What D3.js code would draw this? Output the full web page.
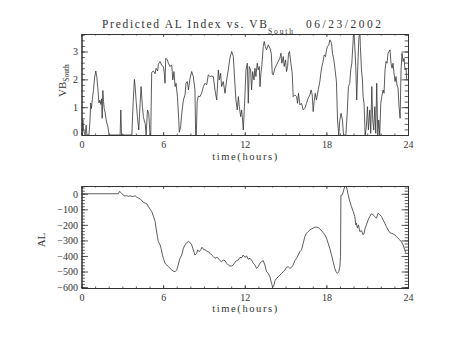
<!DOCTYPE html>
<html><head><meta charset="utf-8">
<script src="https://cdn.jsdelivr.net/npm/d3@7"></script>
<style>html,body{margin:0;padding:0;background:#fff;}svg{display:block;}</style>
</head><body>
<svg id="chart" width="453" height="340"></svg>
<script>
// ---- data ----
const vbHours = [0.00,0.05,0.10,0.15,0.22,0.27,0.34,0.40,0.55,0.62,0.68,0.73,0.80,0.88,0.96,1.05,1.12,1.20,1.28,1.35,1.42,1.48,1.52,1.57,1.62,1.67,1.74,1.81,1.88,1.94,2.03,2.84,2.89,2.94,3.70,3.80,3.89,3.95,4.01,4.11,4.21,4.31,4.38,4.48,4.55,4.62,4.68,4.75,4.85,4.94,5.04,5.09,5.16,5.29,5.41,5.48,5.60,5.65,5.78,5.90,6.02,6.09,6.14,6.19,6.31,6.39,6.51,6.63,6.71,6.80,6.88,6.95,7.05,7.15,7.19,7.29,7.37,7.49,7.61,7.68,7.78,7.86,7.98,8.10,8.22,8.34,8.39,8.44,8.50,8.59,8.71,8.83,8.96,9.08,9.20,9.32,9.45,9.57,9.69,9.81,9.94,10.06,10.13,10.23,10.30,10.42,10.55,10.67,10.79,10.91,11.04,11.16,11.26,11.35,11.45,11.53,11.60,11.70,11.77,11.84,11.89,11.99,12.09,12.19,12.26,12.33,12.43,12.50,12.58,12.68,12.75,12.82,12.92,12.99,13.07,13.12,13.19,13.26,13.36,13.43,13.51,13.60,13.73,13.85,13.95,14.02,14.09,14.22,14.34,14.46,14.58,14.66,14.73,14.83,14.90,15.00,15.07,15.15,15.22,15.29,15.39,15.49,15.56,15.68,15.81,15.88,15.95,16.05,16.17,16.30,16.42,16.54,16.66,16.79,16.88,16.96,17.03,17.10,17.18,17.27,17.40,17.52,17.59,17.67,17.76,17.84,17.94,18.01,18.08,18.18,18.25,18.38,18.45,18.55,18.64,18.74,18.82,18.91,18.99,19.08,19.18,19.26,19.43,19.53,19.62,19.72,19.79,19.87,19.97,20.01,20.09,20.16,20.23,20.31,20.38,20.46,20.50,20.58,20.65,20.70,20.77,20.85,20.94,21.02,21.09,21.19,21.26,21.34,21.41,21.48,21.56,21.63,21.70,21.78,21.85,21.92,22.00,22.07,22.17,22.24,22.31,22.39,22.46,22.53,22.61,22.68,22.75,22.83,22.90,22.97,23.05,23.12,23.19,23.27,23.34,23.42,23.49,23.56,23.64,23.71,23.78,23.86,23.90];
const vbSouth = [0.00,0.10,0.55,0.20,0.05,0.00,0.35,0.00,0.00,0.50,1.15,0.95,1.30,1.60,2.05,2.30,2.10,1.70,1.15,1.25,1.10,1.30,0.60,1.60,1.20,0.95,0.80,0.55,0.40,0.30,0.00,0.00,0.90,0.00,0.00,1.20,2.00,1.70,1.26,0.66,0.18,1.14,1.74,1.00,0.66,0.50,0.42,0.00,0.90,0.78,0.00,0.00,2.25,2.30,2.20,2.40,2.30,2.55,2.64,2.50,2.46,2.20,1.86,2.76,2.70,2.58,2.46,2.52,1.98,2.28,1.74,1.86,1.38,0.54,0.10,0.30,0.78,1.26,1.44,1.86,1.92,1.62,2.04,2.28,2.10,1.62,0.00,0.00,1.20,1.40,1.38,1.50,1.74,1.86,1.80,2.16,2.10,2.12,2.10,1.62,1.26,2.34,1.98,2.22,1.74,1.92,1.50,1.98,2.34,2.76,3.00,2.82,1.98,1.26,0.90,1.38,1.02,0.66,0.90,0.54,0.18,1.14,2.34,2.58,1.14,2.46,2.34,1.62,2.28,1.98,2.40,2.10,2.58,2.34,2.46,1.74,2.22,2.52,3.18,3.36,3.18,3.06,3.24,3.12,2.94,2.22,2.16,2.40,2.52,2.64,2.76,2.94,2.58,2.82,2.46,2.70,2.28,2.46,2.94,3.00,2.58,2.22,1.38,1.44,1.38,1.14,1.50,1.08,1.14,0.90,0.96,1.14,1.32,1.44,1.62,1.44,0.84,1.20,1.50,1.26,1.62,1.92,2.22,2.46,2.64,2.88,2.82,3.06,3.18,3.24,3.42,3.30,2.94,2.70,2.34,1.92,0.54,0.00,0.54,0.78,0.54,0.00,0.00,0.78,1.74,1.86,2.34,2.58,3.42,3.80,3.18,2.46,1.26,2.46,3.42,3.80,3.18,2.34,1.98,1.38,1.14,0.00,0.30,1.02,0.18,0.90,0.06,1.74,0.54,0.18,1.02,0.06,1.86,0.00,0.54,0.00,1.14,1.38,1.62,1.50,2.34,2.64,2.58,2.94,3.00,3.06,2.58,2.40,2.58,2.22,1.92,2.10,1.80,1.68,1.02,0.60,2.34,2.94,2.64,2.76,2.34,2.40,2.00];

const alHours = [0.00,2.72,2.79,2.89,3.04,3.16,3.33,3.45,3.57,3.70,3.82,3.94,4.06,4.19,4.31,4.43,4.55,4.68,4.80,4.92,5.04,5.16,5.29,5.41,5.48,5.58,5.65,5.78,5.85,5.95,6.02,6.14,6.27,6.39,6.51,6.63,6.75,6.88,7.00,7.07,7.17,7.24,7.37,7.49,7.61,7.73,7.86,7.98,8.10,8.22,8.34,8.47,8.54,8.66,8.76,8.86,8.96,9.08,9.20,9.32,9.45,9.57,9.69,9.81,9.94,10.06,10.18,10.30,10.42,10.55,10.67,10.79,10.91,11.04,11.16,11.28,11.40,11.53,11.65,11.77,11.89,12.02,12.14,12.26,12.38,12.50,12.63,12.75,12.87,12.99,13.11,13.24,13.36,13.48,13.60,13.73,13.85,13.97,14.05,14.15,14.22,14.34,14.46,14.58,14.71,14.83,14.95,15.07,15.19,15.32,15.44,15.56,15.68,15.81,15.93,16.05,16.17,16.30,16.42,16.54,16.66,16.79,16.91,17.03,17.15,17.27,17.40,17.52,17.64,17.76,17.89,18.01,18.13,18.25,18.38,18.50,18.62,18.74,18.81,18.91,18.99,19.04,19.07,19.18,19.28,19.35,19.43,19.50,19.60,19.72,19.84,19.97,20.09,20.16,20.21,20.28,20.36,20.46,20.58,20.70,20.77,20.85,20.94,21.07,21.19,21.31,21.43,21.56,21.68,21.80,21.92,22.05,22.17,22.29,22.41,22.53,22.66,22.78,22.90,23.02,23.15,23.27,23.39,23.51,23.64,23.76,23.83];
const alIndex = [0,0,15,9,-6,-13,-13,-17,-13,-17,-17,-13,-22,-28,-34,-43,-56,-60,-65,-82,-99,-114,-146,-178,-221,-275,-308,-329,-351,-394,-415,-447,-458,-469,-480,-490,-497,-501,-490,-469,-437,-415,-394,-350,-329,-314,-308,-314,-329,-361,-394,-383,-361,-372,-361,-344,-357,-361,-368,-372,-383,-394,-404,-415,-409,-415,-430,-437,-426,-430,-447,-458,-465,-465,-458,-440,-430,-426,-409,-412,-394,-409,-400,-421,-415,-426,-447,-458,-480,-469,-447,-437,-430,-458,-501,-512,-534,-576,-602,-587,-559,-544,-534,-523,-512,-501,-490,-473,-469,-480,-473,-458,-430,-415,-394,-372,-361,-318,-275,-254,-243,-232,-226,-221,-215,-215,-217,-226,-237,-249,-264,-286,-318,-351,-394,-437,-480,-507,-512,-501,-469,-404,-10,-6,26,45,48,37,-6,-49,-82,-114,-146,-200,-189,-221,-200,-243,-237,-264,-254,-221,-200,-168,-146,-129,-135,-146,-157,-125,-135,-146,-168,-189,-211,-232,-249,-254,-258,-264,-275,-286,-296,-308,-329,-361,-378];

const hourTicks = [0, 6, 12, 18, 24];
const vbTicks = [0, 1, 2, 3];
const alTicks = [0, -100, -200, -300, -400, -500, -600];
const vbRange = [0, 3.63];
const alRange = [-606, 50];

// ---- layout ----
const svg = d3.select("#chart");
const FONT = "Liberation Serif";
const INK = "#333";
const X0 = 81.5, X1 = 408;
const x = d3.scaleLinear().domain([0, 24]).range([X0, X1]);

function panel(yTop, yBot, domain, ticks, minorStep, fmt, id, zeroShift) {
  const y = d3.scaleLinear().domain(domain).range([yBot, yTop]);
  const g = svg.append("g");
  const minorX = d3.range(0, 24.001, 1);
  const lo = Math.ceil(domain[0] / minorStep) * minorStep;
  const minorY = d3.range(lo, domain[1] + 1e-9, minorStep);
  const bx = g.append("g").attr("transform", `translate(0,${yBot})`)
    .call(d3.axisBottom(x).tickValues(hourTicks).tickSizeInner(-3).tickSizeOuter(0).tickPadding(8).tickFormat(d3.format("d")));
  g.append("g").attr("transform", `translate(0,${yBot})`)
    .call(d3.axisBottom(x).tickValues(minorX).tickSizeInner(-1.5).tickSizeOuter(0).tickFormat(""));
  g.append("g").attr("transform", `translate(0,${yTop})`)
    .call(d3.axisTop(x).tickValues(hourTicks).tickSizeInner(-3).tickSizeOuter(0).tickFormat(""));
  g.append("g").attr("transform", `translate(0,${yTop})`)
    .call(d3.axisTop(x).tickValues(minorX).tickSizeInner(-1.5).tickSizeOuter(0).tickFormat(""));
  const ly = g.append("g").attr("transform", `translate(${X0},0)`)
    .call(d3.axisLeft(y).tickValues(ticks).tickSizeInner(-6.5).tickSizeOuter(0).tickPadding(3.5).tickFormat(fmt));
  g.append("g").attr("transform", `translate(${X0},0)`)
    .call(d3.axisLeft(y).tickValues(minorY).tickSizeInner(-3.3).tickSizeOuter(0).tickFormat(""));
  g.append("g").attr("transform", `translate(${X1},0)`)
    .call(d3.axisRight(y).tickValues(ticks).tickSizeInner(-6.5).tickSizeOuter(0).tickFormat(""));
  g.append("g").attr("transform", `translate(${X1},0)`)
    .call(d3.axisRight(y).tickValues(minorY).tickSizeInner(-3.3).tickSizeOuter(0).tickFormat(""));
  g.selectAll(".domain").attr("stroke", INK).attr("stroke-width", 1);
  g.selectAll(".tick line").attr("stroke", INK).attr("stroke-width", 0.8);
  g.selectAll(".tick text").attr("font-family", FONT).attr("font-size", 10).attr("fill", INK);
  bx.selectAll(".tick text").attr("dy", null).attr("y", 13);
  ly.selectAll(".tick text").attr("dy", "0.34em")
    .attr("transform", d => (d === 0 && zeroShift) ? `translate(0,${-zeroShift})` : null);

  svg.append("clipPath").attr("id", id).append("rect")
    .attr("x", X0).attr("y", yTop).attr("width", X1 - X0).attr("height", yBot - yTop);
  return y;
}

const yVB = panel(34, 135, vbRange, vbTicks, 0.2, d3.format("d"), "clipTop", 3);
const yAL = panel(186, 288, alRange, alTicks, 20, d => d3.format("d")(d).replace("-", "\u2212"), "clipBot", 0);

const vbData = vbHours.map((h, i) => [h, vbSouth[i]]);
const alData = alHours.map((h, i) => [h, alIndex[i]]);

svg.append("path").datum(vbData)
  .attr("clip-path", "url(#clipTop)")
  .attr("fill", "none").attr("stroke", INK).attr("stroke-width", 0.8)
  .attr("d", d3.line().x(d => x(d[0])).y(d => yVB(d[1])));
svg.append("path").datum(alData)
  .attr("clip-path", "url(#clipBot)")
  .attr("fill", "none").attr("stroke", INK).attr("stroke-width", 0.8)
  .attr("d", d3.line().x(d => x(d[0])).y(d => yAL(d[1])));

// ---- texts ----
svg.append("text").attr("x", 102).attr("y", 27.7).attr("font-family", FONT).attr("font-size", 11.5).attr("fill", INK)
  .attr("textLength", 165).attr("lengthAdjust", "spacing").text("Predicted AL Index vs. VB");
svg.append("text").attr("x", 268).attr("y", 33.5).attr("font-family", FONT).attr("font-size", 7.5).attr("fill", INK)
  .attr("textLength", 25).attr("lengthAdjust", "spacing").text("South");
svg.append("text").attr("x", 306).attr("y", 27.7).attr("font-family", FONT).attr("font-size", 11.5).attr("fill", INK)
  .attr("textLength", 75).attr("lengthAdjust", "spacing").text("06/23/2002");

[160, 311.5].forEach(yy => {
  svg.append("text").attr("x", (X0 + X1) / 2).attr("y", yy).attr("text-anchor", "middle")
    .attr("font-family", FONT).attr("font-size", 10.5).attr("fill", INK)
    .attr("textLength", 65).attr("lengthAdjust", "spacing").text("time(hours)");
});

const vbLab = svg.append("text").attr("transform", "translate(65.5,97) rotate(-90)")
  .attr("font-family", FONT).attr("font-size", 11).attr("fill", INK);
vbLab.append("tspan").text("VB");
vbLab.append("tspan").attr("font-size", 7.5).attr("dy", 3.5).text("South");

svg.append("text").attr("transform", "translate(45,240) rotate(-90)").attr("text-anchor", "middle")
  .attr("font-family", FONT).attr("font-size", 11).attr("fill", INK).text("AL");
</script>
</body></html>
